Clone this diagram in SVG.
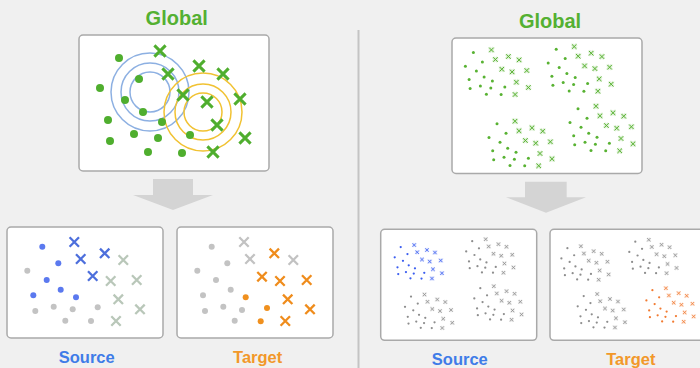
<svg xmlns="http://www.w3.org/2000/svg" xmlns:xlink="http://www.w3.org/1999/xlink" width="700" height="368" viewBox="0 0 700 368">
  <style>
    .bg{fill:#f0f0f0}
    .box{fill:#ffffff;stroke:#a9a9a9;stroke-width:1.5}
    .arrow{fill:#d4d4d4}
    .divider{stroke:#c4c4c4;stroke-width:2}
    .title{font-family:"Liberation Sans",Arial,sans-serif;font-weight:bold;text-anchor:middle}
    .big{font-size:20px}
    .small{font-size:16.5px}
    .green{fill:#54b032}
    .src{fill:#3f7ce8}
    .tgt{fill:#f2982a}
    .ring-b{fill:none;stroke:#8db0e2;stroke-width:1.5}
    .ring-y{fill:none;stroke:#f1c232;stroke-width:1.5}
    .xl{fill:none;stroke-width:3;stroke-linecap:butt}
    .xm{fill:none;stroke-width:2.3}
    .xs-halo{fill:none;stroke:currentColor;stroke-width:3;opacity:.2}
    .xs-line{fill:none;stroke:currentColor;stroke-width:1}
  </style>
  <defs>
    <!-- large cross for the left global scatter -->
    <path id="xL" d="M-5.6,-5.6L5.6,5.6M-5.6,5.6L5.6,-5.6"/>
    <!-- medium cross for the left source/target panels -->
    <path id="xM" d="M-4.7,-4.7L4.7,4.7M-4.7,4.7L4.7,-4.7"/>
    <!-- tiny cross with soft halo for the clustered scatter -->
    <g id="xS">
      <path class="xs-halo" d="M-2.3,-2.3L2.3,2.3M-2.3,2.3L2.3,-2.3"/>
      <path class="xs-line" d="M-2.3,-2.3L2.3,2.3M-2.3,2.3L2.3,-2.3"/>
    </g>
    <!-- one cluster of dots and crosses, coloured via currentColor -->
    <g id="cluster" fill="currentColor">
      <circle cx="0" cy="0" r="1.5"/>
      <circle cx="9" cy="9.4" r="1.5"/>
      <circle cx="-8" cy="13.7" r="1.5"/>
      <circle cx="3" cy="18.4" r="1.5"/>
      <circle cx="10.7" cy="24.4" r="1.5"/>
      <circle cx="-4.3" cy="27" r="1.5"/>
      <circle cx="19" cy="28.4" r="1.5"/>
      <circle cx="7" cy="33.4" r="1.5"/>
      <circle cx="17.4" cy="35.4" r="1.5"/>
      <circle cx="-3.3" cy="36" r="1.5"/>
      <circle cx="31.4" cy="34.4" r="1.5"/>
      <circle cx="13" cy="41.7" r="1.5"/>
      <circle cx="27.7" cy="42" r="1.5"/>
      <use href="#xS" x="18" y="-2.6"/>
      <use href="#xS" x="22" y="7"/>
      <use href="#xS" x="35" y="4"/>
      <use href="#xS" x="45.7" y="7.4"/>
      <use href="#xS" x="28.4" y="16.7"/>
      <use href="#xS" x="38.7" y="19.4"/>
      <use href="#xS" x="53.4" y="18"/>
      <use href="#xS" x="43" y="29.7"/>
      <use href="#xS" x="55" y="35"/>
      <use href="#xS" x="41.7" y="42"/>
    </g>
  </defs>

  <rect class="bg" x="0" y="0" width="700" height="368"/>
  <line class="divider" x1="358.5" y1="30" x2="358.5" y2="368"/>

  <!-- connectors: the two wide down arrows -->
  <g id="connectors">
    <path class="arrow" d="M153,179H193V195H213L173,210L133,195H153Z"/>
    <path class="arrow" d="M525,181.7H566.7V197.3H586L546,212.7L506,197.3H525Z"/>
  </g>

  <!-- left: overlapping global scatter -->
  <g id="global-left">
    <text class="title big green" x="176.7" y="25">Global</text>
    <rect class="box" x="79" y="35" width="190" height="136" rx="4"/>
    <circle class="ring-b" cx="150" cy="92" r="20"/>
    <circle class="ring-b" cx="150" cy="92" r="29"/>
    <circle class="ring-b" cx="150" cy="92" r="39"/>
    <circle class="ring-y" cx="203" cy="112" r="19"/>
    <circle class="ring-y" cx="203" cy="112" r="28"/>
    <circle class="ring-y" cx="203" cy="112" r="39"/>
    <g fill="#4fae2e">
      <circle cx="119" cy="58" r="4"/><circle cx="100" cy="88" r="4"/>
      <circle cx="139" cy="79" r="4"/><circle cx="125" cy="100" r="4"/>
      <circle cx="143" cy="112" r="4"/><circle cx="108" cy="120" r="4"/>
      <circle cx="162" cy="122" r="4"/><circle cx="134" cy="134" r="4"/>
      <circle cx="158" cy="138" r="4"/><circle cx="110" cy="141" r="4"/>
      <circle cx="148" cy="152" r="4"/><circle cx="190" cy="135" r="4"/>
      <circle cx="182" cy="153" r="4"/>
    </g>
    <g class="xl" stroke="#4fae2e">
      <use href="#xL" x="160" y="51"/><use href="#xL" x="168" y="74"/>
      <use href="#xL" x="199" y="66"/><use href="#xL" x="223" y="74"/>
      <use href="#xL" x="183" y="95"/><use href="#xL" x="207" y="102"/>
      <use href="#xL" x="240" y="99"/><use href="#xL" x="217" y="125"/>
      <use href="#xL" x="245" y="138"/><use href="#xL" x="213" y="152"/>
    </g>
  </g>

  <!-- left: source panel -->
  <g id="source-left">
    <rect class="box" x="7" y="227" width="156" height="111" rx="4"/>
    <g fill="#5b79ef">
      <circle cx="42.3" cy="246.7" r="3"/><circle cx="58.3" cy="263.3" r="3"/>
      <circle cx="46.7" cy="280" r="3"/><circle cx="60.7" cy="289.7" r="3"/>
      <circle cx="33.3" cy="295.3" r="3"/><circle cx="76" cy="297.3" r="3"/>
    </g>
    <g fill="#c3c3c3">
      <circle cx="27.3" cy="270.7" r="3"/><circle cx="35.3" cy="311" r="3"/>
      <circle cx="53.7" cy="306.7" r="3"/><circle cx="72.7" cy="309.3" r="3"/>
      <circle cx="97.7" cy="307.3" r="3"/><circle cx="65.3" cy="320.7" r="3"/>
      <circle cx="91" cy="321" r="3"/>
    </g>
    <g class="xm" stroke="#4d6fdc">
      <use href="#xM" x="74.3" y="242"/><use href="#xM" x="80.7" y="259"/>
      <use href="#xM" x="104.7" y="253.3"/><use href="#xM" x="92.7" y="276"/>
    </g>
    <g class="xm" stroke="#b9c7b9">
      <use href="#xM" x="123.3" y="260"/><use href="#xM" x="110.7" y="281"/>
      <use href="#xM" x="136.7" y="280"/><use href="#xM" x="118.3" y="299.3"/>
      <use href="#xM" x="140" y="309.3"/><use href="#xM" x="116" y="321"/>
    </g>
    <text class="title small src" x="86.7" y="363.3">Source</text>
  </g>

  <!-- left: target panel -->
  <g id="target-left">
    <rect class="box" x="177" y="227" width="156" height="111" rx="4"/>
    <g fill="#c3c3c3">
      <circle cx="211.7" cy="246.7" r="3"/><circle cx="227.3" cy="263.3" r="3"/>
      <circle cx="197.3" cy="270.7" r="3"/><circle cx="216" cy="280" r="3"/>
      <circle cx="230.7" cy="289.7" r="3"/><circle cx="203" cy="295.3" r="3"/>
      <circle cx="205" cy="311" r="3"/><circle cx="223.3" cy="306.7" r="3"/>
      <circle cx="242" cy="310" r="3"/><circle cx="234.7" cy="320.7" r="3"/>
    </g>
    <g fill="#f0901e">
      <circle cx="245.7" cy="297.3" r="3"/><circle cx="267" cy="308" r="3"/>
      <circle cx="260.7" cy="321.3" r="3"/>
    </g>
    <g class="xm" stroke="#c2c2c2">
      <use href="#xM" x="244" y="242"/><use href="#xM" x="250" y="259"/>
      <use href="#xM" x="293.3" y="260"/>
    </g>
    <g class="xm" stroke="#ef8c1c">
      <use href="#xM" x="274.3" y="253.3"/><use href="#xM" x="262" y="276.7"/>
      <use href="#xM" x="280" y="281"/><use href="#xM" x="306.7" y="280"/>
      <use href="#xM" x="287.7" y="299.3"/><use href="#xM" x="310" y="309.3"/>
      <use href="#xM" x="285.3" y="321"/>
    </g>
    <text class="title small tgt" x="257.7" y="363.3">Target</text>
  </g>

  <!-- right: four separated clusters -->
  <g id="global-right">
    <text class="title big green" x="550" y="28.3">Global</text>
    <rect class="box" x="452" y="38" width="190" height="135.5" rx="4"/>
    <g color="#58b232">
      <use href="#cluster" transform="translate(473.4,52.5)"/>
      <use href="#cluster" transform="translate(556.2,49.2)"/>
      <use href="#cluster" transform="translate(497,123.8)"/>
      <use href="#cluster" transform="translate(578,108.8)"/>
    </g>
  </g>

  <g id="source-right">
    <rect class="box" x="380.7" y="229.3" width="156" height="111" rx="4"/>
    <use href="#cluster" color="#3a5df0" transform="translate(400.7,247) scale(0.75)"/>
    <g color="#8d8d8d">
      <use href="#cluster" transform="translate(472.2,241.2) scale(0.75)"/>
      <use href="#cluster" transform="translate(411,296.5) scale(0.75)"/>
      <use href="#cluster" transform="translate(480.3,288.2) scale(0.75)"/>
    </g>
    <text class="title small src" x="459.8" y="364.7">Source</text>
  </g>

  <g id="target-right">
    <rect class="box" x="550" y="229.3" width="156" height="111" rx="4"/>
    <g color="#8d8d8d">
      <use href="#cluster" transform="translate(567.4,248.2) scale(0.75)"/>
      <use href="#cluster" transform="translate(635.3,241.7) scale(0.75)"/>
      <use href="#cluster" transform="translate(583.7,296) scale(0.75)"/>
    </g>
    <use href="#cluster" color="#f27a30" transform="translate(652.4,290.2) scale(0.75)"/>
    <text class="title small tgt" x="630.8" y="364.7">Target</text>
  </g>
</svg>
